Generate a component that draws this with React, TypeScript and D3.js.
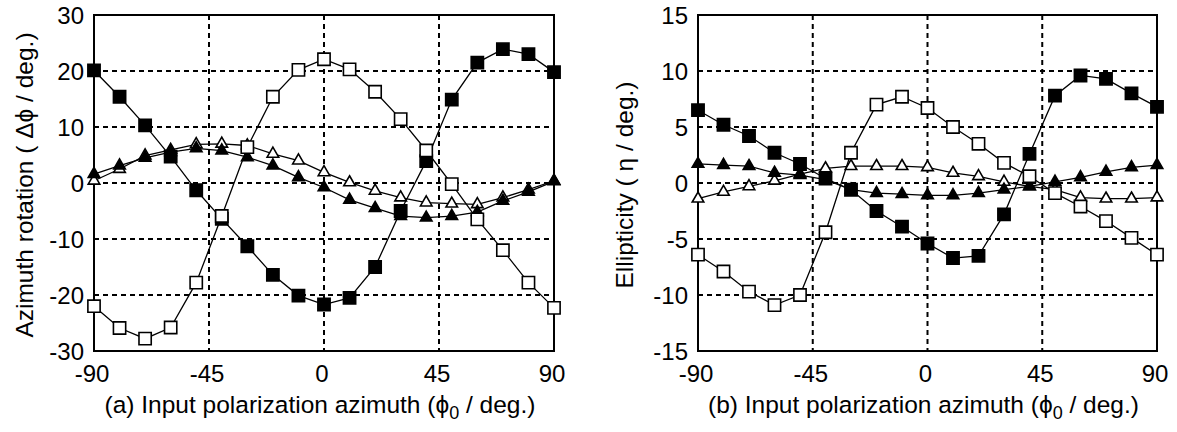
import React from "react";
import * as d3 from "d3";

// input polarization azimuth (deg)
const azimuth = [-90, -80, -70, -60, -50, -40, -30, -20, -10, 0, 10, 20, 30, 40, 50, 60, 70, 80, 90];

// (a) azimuth rotation, deg
const rotFilledSq = [20.1, 15.4, 10.3, 4.7, -1.3, -6.4, -11.3, -16.4, -20.1, -21.7, -20.5, -15.0, -5.0, 3.9, 14.9, 21.5, 23.9, 23.0, 19.8];
const rotOpenSq = [-22.0, -25.9, -27.8, -25.8, -17.8, -5.9, 6.4, 15.4, 20.2, 22.1, 20.3, 16.3, 11.4, 5.8, -0.2, -6.5, -12.0, -17.8, -22.3];
const rotFilledTri = [1.6, 3.1, 4.5, 5.5, 6.2, 5.8, 4.6, 3.1, 1.0, -0.8, -3.0, -4.5, -5.9, -6.2, -5.9, -5.2, -3.2, -1.6, 0.3];
const rotOpenTri = [0.4, 2.5, 4.9, 5.9, 6.9, 7.0, 6.7, 5.2, 4.0, 1.9, 0.1, -1.4, -2.6, -3.5, -3.7, -3.8, -2.6, -1.2, 0.4];

// (b) ellipticity, deg
const ellFilledSq = [6.5, 5.2, 4.2, 2.7, 1.7, 0.4, -0.6, -2.5, -3.9, -5.4, -6.7, -6.5, -2.8, 2.6, 7.8, 9.6, 9.3, 8.0, 6.8];
const ellOpenSq = [-6.4, -7.9, -9.7, -10.9, -10.0, -4.4, 2.7, 7.0, 7.7, 6.7, 5.0, 3.5, 1.8, 0.6, -0.9, -2.1, -3.4, -4.9, -6.4];
const ellFilledTri = [1.7, 1.6, 1.5, 0.9, 0.7, 0.3, -0.6, -0.9, -1.0, -1.1, -1.1, -0.9, -0.6, -0.3, 0.1, 0.5, 1.0, 1.4, 1.6];
const ellOpenTri = [-1.4, -0.8, -0.3, 0.2, 0.8, 1.3, 1.5, 1.5, 1.5, 1.4, 0.9, 0.6, 0.1, -0.3, -0.6, -1.3, -1.4, -1.4, -1.3];

const xTicks = [-90, -45, 0, 45, 90];
const rotTicks = [-30, -20, -10, 0, 10, 20, 30];
const ellTicks = [-15, -10, -5, 0, 5, 10, 15];

const font = "'Liberation Sans', Arial, sans-serif";

const squarePath = d3.symbol(d3.symbolSquare, 150)();
const trianglePath = d3.symbol(d3.symbolTriangle, 58)();

function Panel({ left, right, yTicks, series, yLabel, tag, labelX }) {
  const x = d3.scaleLinear().domain([-90, 90]).range([left, right]);
  const y = d3.scaleLinear().domain([yTicks[0], yTicks[yTicks.length - 1]]).range([351, 15]);
  const line = d3
    .line()
    .x((d) => x(d[0]))
    .y((d) => y(d[1]));

  return (
    <g>
      {/* grid */}
      {yTicks.slice(1, -1).map((t) => (
        <line key={"gy" + t} x1={left} x2={right} y1={y(t)} y2={y(t)} stroke="#000" strokeWidth={2} strokeDasharray="5,4" />
      ))}
      {xTicks.slice(1, -1).map((t) => (
        <line key={"gx" + t} x1={x(t)} x2={x(t)} y1={y.range()[1]} y2={y.range()[0]} stroke="#000" strokeWidth={2} strokeDasharray="5,4" />
      ))}
      <rect x={left} y={15} width={right - left} height={336} fill="none" stroke="#000" strokeWidth={2} />

      {series.map((s, i) => {
        const pts = azimuth.map((a, j) => [a, s.values[j]]);
        return (
          <g key={i}>
            <path d={line(pts)} fill="none" stroke="#000" strokeWidth={1.3} />
            {pts.map((p, j) => (
              <path
                key={j}
                d={s.shape === "square" ? squarePath : trianglePath}
                transform={`translate(${x(p[0])},${y(p[1])})`}
                fill={s.filled ? "#000" : "#fff"}
                stroke="#000"
                strokeWidth={1.6}
              />
            ))}
          </g>
        );
      })}

      {/* tick labels */}
      {yTicks.map((t) => (
        <text key={"ty" + t} x={left - 10} y={y(t) + 9} textAnchor="end" fontFamily={font} fontSize={24}>
          {t}
        </text>
      ))}
      {xTicks.map((t) => (
        <text key={"tx" + t} x={x(t) - 2} y={382} textAnchor="middle" fontFamily={font} fontSize={24}>
          {t}
        </text>
      ))}

      <text
        transform={`translate(${labelX},185) rotate(-90)`}
        textAnchor="middle"
        fontFamily={font}
        fontSize={24.5}
      >
        {yLabel}
      </text>
      <text x={(left + right) / 2 - 4} y={413} textAnchor="middle" fontFamily={font} fontSize={24.5}>
        {tag} Input polarization azimuth (ϕ
        <tspan dy={6} fontSize={18}>0</tspan>
        <tspan dy={-6}> / deg.)</tspan>
      </text>
    </g>
  );
}

export default function App() {
  return (
    <svg width={1177} height={432} style={{ position: "absolute", left: 0, top: 0, background: "#fff" }}>
      <rect width={1177} height={432} fill="#fff" />
      <Panel
        left={94}
        right={554}
        yTicks={rotTicks}
        labelX={33}
        tag="(a)"
        yLabel="Azimuth rotation ( Δϕ / deg.)"
        series={[
          { values: rotOpenTri, shape: "triangle", filled: false },
          { values: rotFilledTri, shape: "triangle", filled: true },
          { values: rotFilledSq, shape: "square", filled: true },
          { values: rotOpenSq, shape: "square", filled: false },
        ]}
      />
      <Panel
        left={698}
        right={1157}
        yTicks={ellTicks}
        labelX={633}
        tag="(b)"
        yLabel="Ellipticity ( η / deg.)"
        series={[
          { values: ellOpenTri, shape: "triangle", filled: false },
          { values: ellFilledTri, shape: "triangle", filled: true },
          { values: ellFilledSq, shape: "square", filled: true },
          { values: ellOpenSq, shape: "square", filled: false },
        ]}
      />
    </svg>
  );
}
